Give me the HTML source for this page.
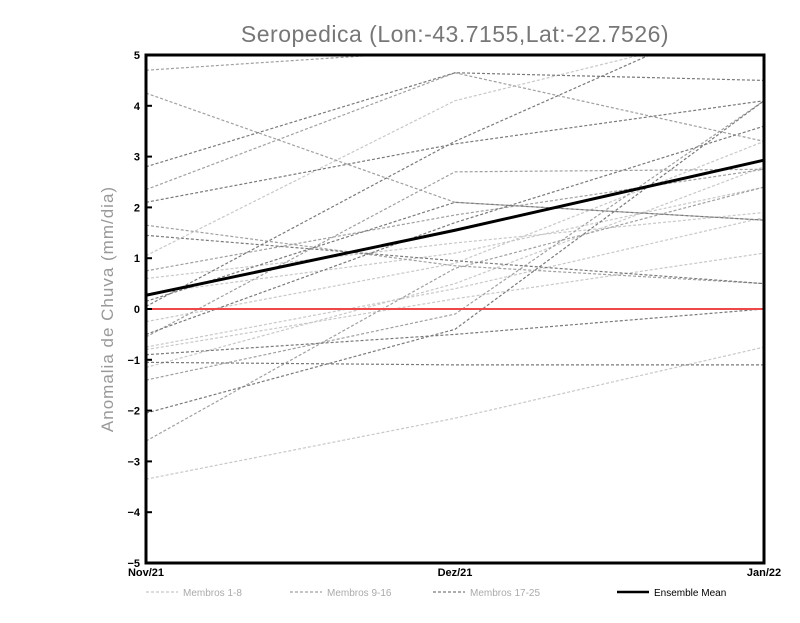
<!DOCTYPE html>
<html><head><meta charset="utf-8"><style>
body{margin:0;background:#fff;}
svg text{font-family:"Liberation Sans",sans-serif;}
</style></head><body>
<svg id="chart" width="800" height="618" xmlns="http://www.w3.org/2000/svg">
<defs><clipPath id="clip"><rect x="146" y="55" width="618" height="508"/></clipPath></defs>
<text x="455" y="42" text-anchor="middle" font-size="23" fill="#777" letter-spacing="0.5">Seropedica (Lon:-43.7155,Lat:-22.7526)</text>
<text transform="translate(113,309) rotate(-90)" text-anchor="middle" font-size="17" fill="#999" letter-spacing="1">Anomalia de Chuva (mm/dia)</text>
<g id="members" clip-path="url(#clip)"></g>
<g id="axes"></g>
<g id="legend"></g>
</svg>
<script>
const categories=["Nov/21","Dez/21","Jan/22"];
const yTicks=[-5,-4,-3,-2,-1,0,1,2,3,4,5];
const group1=[[-3.35,-2.15,-0.75],[1.05,4.1,5.6],[0.6,1.3,1.9],[-0.8,0.2,1.1],[-1.15,0.5,2.8],[-0.25,0.9,3.3],[0.3,1.1,2.4],[-0.75,0.4,1.8]];
const group2=[[4.7,5.1,5.2],[4.25,2.1,1.75],[2.35,4.65,3.3],[1.65,0.85,0.5],[0.75,1.85,2.75],[-0.55,2.7,2.75],[-1.4,-0.1,4.1],[-2.6,0.8,2.4]];
const group3=[[2.8,4.65,4.5],[2.1,3.25,4.1],[1.45,0.95,0.5],[0.15,2.1,1.75],[0.05,3.3,6],[-0.5,1.7,3.6],[-0.9,-0.5,0.0],[-1.05,-1.1,-1.1],[-2.05,-0.4,4.1]];
const ensembleMean=[0.27,1.55,2.93];
const legendLabels=["Membros 1-8","Membros 9-16","Membros 17-25","Ensemble Mean"];
const X0=146,X1=764,Y0=563,Y1=55;
const xs=i=>X0+(X1-X0)*i/(categories.length-1);
const ys=v=>Y0-(v+5)/10*(Y0-Y1);
const NS="http://www.w3.org/2000/svg";
function mk(tag,attrs,parent){const e=document.createElementNS(NS,tag);for(const k in attrs)e.setAttribute(k,attrs[k]);parent.appendChild(e);return e;}
const gm=document.getElementById('members'),ga=document.getElementById('axes'),gl=document.getElementById('legend');
const pts=arr=>arr.map((v,i)=>xs(i)+','+ys(v)).join(' ');
[[group1,'#c8c8c8'],[group2,'#a0a0a0'],[group3,'#7a7a7a']].forEach(([g,c],gi)=>{
 g.forEach((s,si)=>{const p=mk('polyline',{points:pts(s),fill:'none',stroke:c,'stroke-width':1.2,'stroke-dasharray':'3,2'},gm);
 
 });
});
const zl=mk('line',{x1:X0,x2:X1,y1:ys(0),y2:ys(0),stroke:'#f04848','stroke-width':2},gm);


const ml=mk('polyline',{points:pts(ensembleMean),fill:'none',stroke:'#000','stroke-width':3},gm);


const fr=mk('rect',{x:X0,y:Y1,width:X1-X0,height:Y0-Y1,fill:'none',stroke:'#000','stroke-width':3},ga);


yTicks.forEach(t=>{
 mk('line',{x1:X0,x2:X0+6,y1:ys(t),y2:ys(t),stroke:'#000','stroke-width':2},ga);
 const tx=mk('text',{x:X0-6,y:ys(t)+4,'text-anchor':'end','font-size':11,'font-weight':'bold'},ga);
 tx.textContent=t<0?'\u2212'+(-t):t;
 
 
});
categories.forEach((c,i)=>{
 const tx=mk('text',{x:xs(i),y:Y0+13,'text-anchor':'middle','font-size':11,'font-weight':'bold'},ga);
 tx.textContent=c;
 
 
});
const lc=['#c8c8c8','#a0a0a0','#7a7a7a','#000'],lx=[146,290,433,617];
legendLabels.forEach((l,i)=>{
 mk('line',{x1:lx[i],x2:lx[i]+32,y1:592,y2:592,stroke:lc[i],'stroke-width':i==3?2.5:1.2,'stroke-dasharray':i==3?'':'3,2'},gl);
 const tx=mk('text',{x:lx[i]+37,y:596,'font-size':10,fill:i==3?'#000':'#aaa'},gl);
 tx.textContent=l;
 
 
});
</script>
</body></html>
